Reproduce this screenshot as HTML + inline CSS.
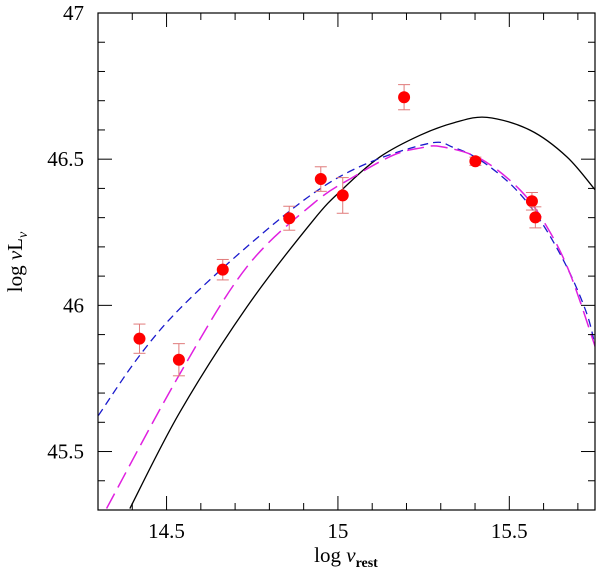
<!DOCTYPE html>
<html><head><meta charset="utf-8"><style>
html,body{margin:0;padding:0;background:#fff;}
svg text{font-family:"Liberation Serif",serif;fill:#000;}
</style></head><body>
<svg id="chart" width="600" height="573" viewBox="0 0 600 573" xmlns="http://www.w3.org/2000/svg">
<g id="curves"></g>
<g id="points"></g>
<g id="axes"></g>
<text x="346" y="562" font-size="21" text-anchor="middle">log <tspan font-style="italic">ν</tspan><tspan font-size="14" dy="5" font-weight="bold">rest</tspan></text>
<text transform="translate(22,262) rotate(-90)" font-size="21" text-anchor="middle">log <tspan font-style="italic">ν</tspan>L<tspan font-size="14" dy="5" font-style="italic">ν</tspan></text>
</svg>
<script>
const xTicksMajor = [14.5, 15, 15.5];
const xTickLabels = ["14.5", "15", "15.5"];
const yTicksMajor = [45.5, 46, 46.5, 47];
const yTickLabels = ["45.5", "46", "46.5", "47"];
const ptX = [14.421, 14.536, 14.664, 14.858, 14.950, 15.014, 15.193, 15.401, 15.566, 15.576];
const ptY = [45.886, 45.814, 46.122, 46.298, 46.432, 46.376, 46.712, 46.493, 46.356, 46.301];
const ptErr = [0.050, 0.055, 0.035, 0.041, 0.042, 0.061, 0.043, 0.014, 0.030, 0.036];
const blackX = [14.393, 14.539, 14.734, 14.928, 15.016, 15.123, 15.240, 15.340, 15.435, 15.561, 15.668, 15.751];
const blackY = [45.305, 45.635, 45.994, 46.291, 46.400, 46.508, 46.582, 46.625, 46.643, 46.599, 46.508, 46.394];
const blueX = [14.301, 14.418, 14.539, 14.734, 14.928, 15.084, 15.270, 15.337, 15.415, 15.512, 15.590, 15.668, 15.726, 15.751];
const blueY = [45.623, 45.823, 45.989, 46.200, 46.383, 46.485, 46.555, 46.540, 46.497, 46.405, 46.291, 46.131, 45.972, 45.857];
const magX = [14.325, 14.539, 14.734, 14.928, 15.045, 15.162, 15.240, 15.300, 15.415, 15.532, 15.610, 15.677, 15.751];
const magY = [45.305, 45.766, 46.131, 46.348, 46.439, 46.514, 46.538, 46.543, 46.502, 46.394, 46.268, 46.109, 45.857];

const NS = "http://www.w3.org/2000/svg";
const L = 98, R = 595, T = 13, B = 510;
const X0 = 14.3, X1 = 15.75, Y0 = 45.3, Y1 = 47;
const sx = v => L + (v - X0) / (X1 - X0) * (R - L);
const sy = v => B - (v - Y0) / (Y1 - Y0) * (B - T);
function mk(tag, attrs, parent) {
  const e = document.createElementNS(NS, tag);
  for (const k in attrs) e.setAttribute(k, attrs[k]);
  parent.appendChild(e);
  return e;
}
function smoothPath(xs, ys) {
  const P = xs.map((x, i) => [sx(x), sy(ys[i])]);
  let d = "M" + P[0][0] + "," + P[0][1];
  for (let i = 0; i < P.length - 1; i++) {
    const p0 = P[Math.max(0, i - 1)], p1 = P[i], p2 = P[i + 1], p3 = P[Math.min(P.length - 1, i + 2)];
    const c1 = [p1[0] + (p2[0] - p0[0]) / 6, p1[1] + (p2[1] - p0[1]) / 6];
    const c2 = [p2[0] - (p3[0] - p1[0]) / 6, p2[1] - (p3[1] - p1[1]) / 6];
    d += " C" + c1 + " " + c2 + " " + p2;
  }
  return d;
}
const curves = document.getElementById("curves");
const cp = mk("clipPath", {id: "clip"}, curves);
mk("rect", {x: L, y: T, width: R - L, height: B - T}, cp);
const cg = mk("g", {"clip-path": "url(#clip)"}, curves);
const c1 = mk("path", {d: smoothPath(blackX, blackY), fill: "none", stroke: "#000", "stroke-width": 1.3}, cg);


const c2 = mk("path", {d: smoothPath(blueX, blueY), fill: "none", stroke: "#1a1acc", "stroke-width": 1.3, "stroke-dasharray": "8,5"}, cg);


const c3 = mk("path", {d: smoothPath(magX, magY), fill: "none", stroke: "#e020e0", "stroke-width": 1.5, "stroke-dasharray": "17,7"}, cg);



const pts = document.getElementById("points");
ptX.forEach((x, i) => {
  const g = mk("g", {}, pts);
  
  
  const px = sx(x), yt = sy(ptY[i] + ptErr[i]), yb = sy(ptY[i] - ptErr[i]);
  const col = "#e07a7a";
  mk("line", {x1: px, x2: px, y1: yt, y2: yb, stroke: col, "stroke-width": 1}, g);
  mk("line", {x1: px - 6, x2: px + 6, y1: yt, y2: yt, stroke: col, "stroke-width": 1}, g);
  mk("line", {x1: px - 6, x2: px + 6, y1: yb, y2: yb, stroke: col, "stroke-width": 1}, g);
  mk("circle", {cx: px, cy: sy(ptY[i]), r: 6, fill: "#ff0000"}, g);
});

const ax = document.getElementById("axes");
const fr = mk("rect", {x: L, y: T, width: R - L, height: B - T, fill: "none", stroke: "#000", "stroke-width": 1.2}, ax);


for (let k = 143; k <= 157; k++) {
  const v = k / 10, px = sx(v);
  const major = Math.abs(v * 2 - Math.round(v * 2)) < 1e-6;
  const len = major ? 14 : 7;
  mk("line", {x1: px, x2: px, y1: B, y2: B - len, stroke: "#000", "stroke-width": 1}, ax);
  mk("line", {x1: px, x2: px, y1: T, y2: T + len, stroke: "#000", "stroke-width": 1}, ax);
}
for (let k = 453; k <= 470; k++) {
  const v = k / 10, py = sy(v);
  const major = Math.abs(v * 2 - Math.round(v * 2)) < 1e-6;
  const len = major ? 14 : 7;
  mk("line", {x1: L, x2: L + len, y1: py, y2: py, stroke: "#000", "stroke-width": 1}, ax);
  mk("line", {x1: R, x2: R - len, y1: py, y2: py, stroke: "#000", "stroke-width": 1}, ax);
}
xTicksMajor.forEach((v, i) => {
  const t = mk("text", {x: sx(v), y: 538, "font-size": 21, "text-anchor": "middle"}, ax);
  t.textContent = xTickLabels[i];
  
  
});
yTicksMajor.forEach((v, i) => {
  const t = mk("text", {x: 84, y: sy(v) + 7, "font-size": 21, "text-anchor": "end"}, ax);
  t.textContent = yTickLabels[i];
  
  
});
</script>
</body></html>
